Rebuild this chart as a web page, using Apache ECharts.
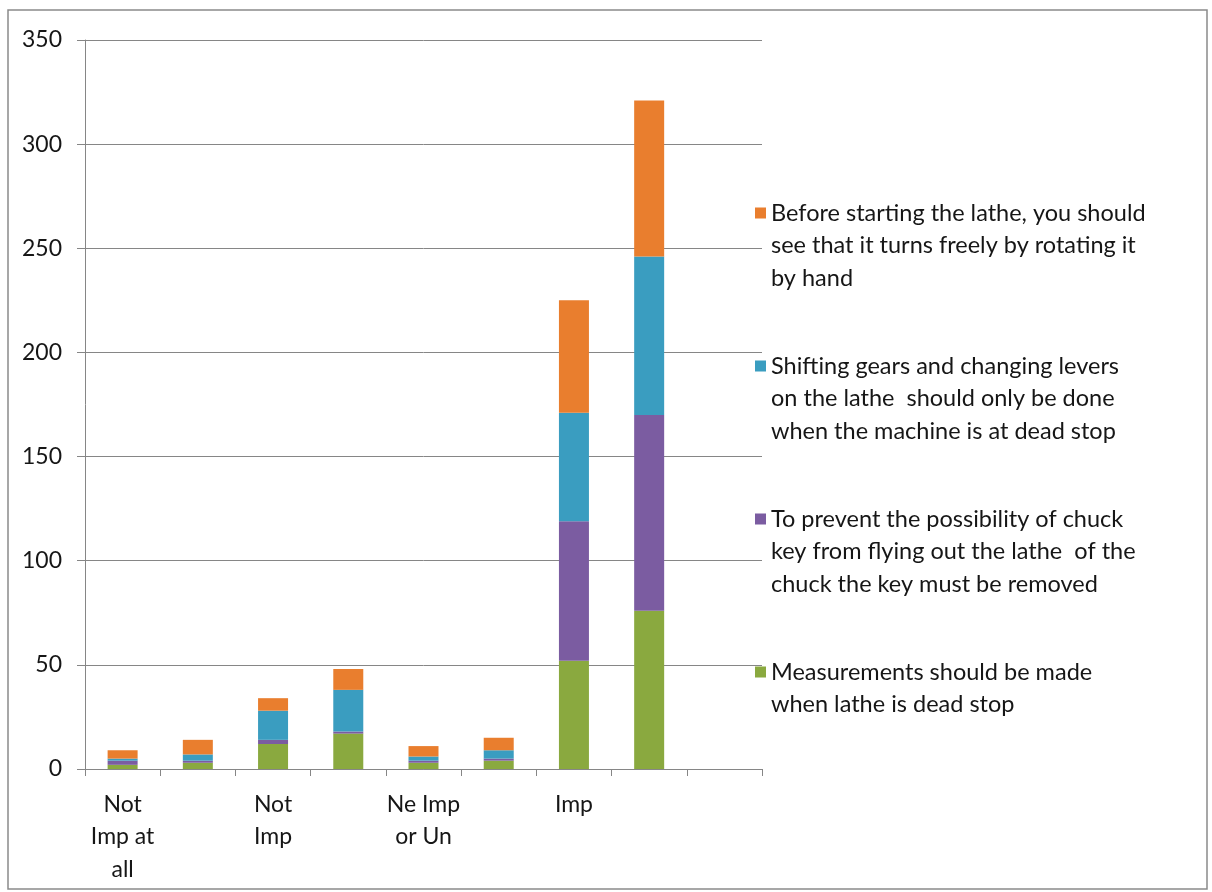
<!DOCTYPE html>
<html>
<head>
<meta charset="utf-8">
<title>Lathe safety rules – importance ratings</title>
<script src="https://cdn.jsdelivr.net/npm/echarts@6/dist/echarts.min.js"></script>
<style>
  html, body { margin: 0; padding: 0; background: #ffffff; }
  #chart { width: 1212px; height: 892px; }
</style>
</head>
<body>
<div id="chart"></div>
<script>
// Rating categories (only every other one carries a label)
const categories = ['Not\nImp at\nall', '', 'Not\nImp', '', 'Ne Imp\nor Un', '', 'Imp', '', ''];

// Legend names of the four statements
const seriesNames = [
  'Before starting the lathe, you should\nsee that it turns freely by rotating it\nby hand',
  'Shifting gears and changing levers\non the lathe  should only be done\nwhen the machine is at dead stop',
  'To prevent the possibility of chuck\nkey from flying out the lathe  of the\nchuck the key must be removed',
  'Measurements should be made\nwhen lathe is dead stop'
];

// Counts per category, stacked bottom to top: measurements, chuck key, gears, turning freely
const measurements = [2, 3, 12, 17, 3, 4, 52, 76, null];
const chuckKey     = [2, 1, 2, 1, 1, 1, 67, 94, null];
const gears        = [1, 3, 14, 20, 2, 4, 52, 76, null];
const turnFreely   = [4, 7, 6, 10, 5, 6, 54, 75, null];

// Y-axis scale
const yMin = 0;
const yMax = 350;
const yStep = 50;

const colors = {
  turnFreely: '#E97E2E',
  gears: '#3A9DC0',
  chuckKey: '#7B5CA1',
  measurements: '#8AA93F'
};

const font = 'Lato, "Open Sans", sans-serif';
const textColor = '#161616';

function barSeries(name, data, color) {
  return {
    name: name,
    type: 'bar',
    stack: 'total',
    barWidth: 30,
    data: data,
    itemStyle: { color: color },
    emphasis: { disabled: true }
  };
}

// One legend block per statement so each can sit at its own height.
// The swatch icon is as tall as the text block, with the visible square
// drawn level with the first line.
const legendLineHeight = 32.5;
const legendFirstLines = [213, 366, 519, 672];
const swatch = 11;
function legendFor(idx, lines) {
  const h = lines * legendLineHeight;
  const sqTop = legendLineHeight / 2 - swatch / 2;
  const sqBot = sqTop + swatch;
  const icon = 'path://M0,0L0.01,0' +
    'M0,' + sqTop + 'L' + swatch + ',' + sqTop + 'L' + swatch + ',' + sqBot + 'L0,' + sqBot + 'Z' +
    'M0,' + h + 'L0.01,' + h;
  return {
    orient: 'vertical',
    left: 755,
    top: legendFirstLines[idx] - legendLineHeight / 2,
    padding: 0,
    itemWidth: swatch,
    itemHeight: h,
    icon: icon,
    selectedMode: false,
    data: [seriesNames[idx]],
    itemStyle: { borderWidth: 0 },
    textStyle: {
      fontFamily: font,
      fontSize: 23.5,
      color: textColor,
      lineHeight: legendLineHeight
    }
  };
}

const chart = echarts.init(document.getElementById('chart'), null, { renderer: 'canvas' });

chart.setOption({
  backgroundColor: '#ffffff',
  animation: false,
  graphic: [{
    type: 'rect',
    shape: { x: 8, y: 10, width: 1199, height: 879 },
    style: { fill: 'none', stroke: '#8a8a8a', lineWidth: 1.5 },
    silent: true
  }],
  grid: { left: 85, right: 450, top: 40, bottom: 123, containLabel: false },
  legend: [
    legendFor(0, 3),
    legendFor(1, 3),
    legendFor(2, 3),
    legendFor(3, 2)
  ],
  xAxis: {
    type: 'category',
    data: categories,
    boundaryGap: true,
    axisLine: { show: true, lineStyle: { color: '#868686', width: 1 } },
    axisTick: { show: true, interval: 0, length: 7, alignWithLabel: false, lineStyle: { color: '#868686' } },
    axisLabel: {
      interval: 1,
      margin: 19,
      fontFamily: font,
      fontSize: 23,
      lineHeight: 32.5,
      color: textColor
    },
    splitLine: { show: false }
  },
  yAxis: {
    type: 'value',
    min: yMin,
    max: yMax,
    interval: yStep,
    axisLine: { show: true, lineStyle: { color: '#868686', width: 1 } },
    axisTick: { show: true, length: 8, lineStyle: { color: '#868686' } },
    axisLabel: {
      margin: 23,
      fontFamily: font,
      fontSize: 23,
      color: textColor
    },
    splitLine: { show: true, lineStyle: { color: '#868686', width: 1 } }
  },
  series: [
    barSeries(seriesNames[3], measurements, colors.measurements),
    barSeries(seriesNames[2], chuckKey, colors.chuckKey),
    barSeries(seriesNames[1], gears, colors.gears),
    barSeries(seriesNames[0], turnFreely, colors.turnFreely)
  ]
});
</script>
</body>
</html>
